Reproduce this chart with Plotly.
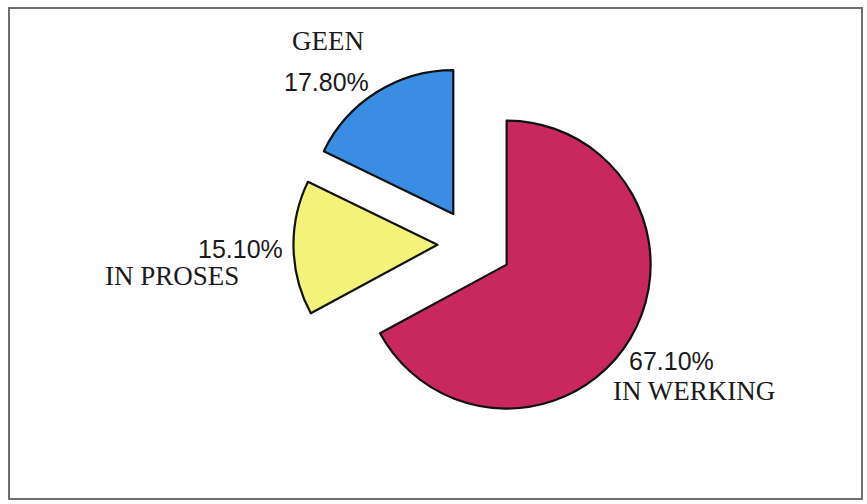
import plotly.graph_objects as go

labels = ["IN WERKING", "IN PROSES", "GEEN"]
values = [67.1, 15.1, 17.8]
colors = ["#C8285E", "#F3F37A", "#3B8DE4"]
pulls = [0.28, 0.24, 0.245]

W, H = 867, 504

def px(x):
    return x / W

def py(y):
    return 1 - y / H

fig = go.Figure()
fig.add_trace(go.Pie(
    labels=labels,
    values=values,
    sort=False,
    direction="clockwise",
    rotation=0,
    pull=pulls,
    marker=dict(colors=colors, line=dict(color="#111111", width=2.2)),
    textinfo="none",
    hoverinfo="label+percent",
    showlegend=False,
    domain=dict(x=[px(472 - 184.3), px(472 + 184.3)], y=[py(244 + 184.3), py(244 - 184.3)]),
))

serif = "Liberation Serif, Times New Roman, serif"
sans = "Liberation Sans, Arial, sans-serif"

# label positions (name line, percent line) per category, in pixel coordinates
name_pos = {"GEEN": (328, 41), "IN PROSES": (172, 276), "IN WERKING": (694, 391)}
pct_pos = {"GEEN": (326, 82), "IN PROSES": (240, 249), "IN WERKING": (671, 361)}

anns = []
for lab, val in zip(labels, values):
    nx, ny = name_pos[lab]
    qx, qy = pct_pos[lab]
    anns.append(dict(x=px(nx), y=py(ny), xref="paper", yref="paper", text=lab,
                     showarrow=False, xanchor="center", yanchor="middle",
                     font=dict(family=serif, size=27, color="#1a1a1a")))
    anns.append(dict(x=px(qx), y=py(qy), xref="paper", yref="paper", text=f"{val:.2f}%",
                     showarrow=False, xanchor="center", yanchor="middle",
                     font=dict(family=sans, size=25, color="#1a1a1a")))

fig.update_layout(
    width=W, height=H,
    margin=dict(l=0, r=0, t=0, b=0),
    paper_bgcolor="white",
    plot_bgcolor="white",
    annotations=anns,
    shapes=[dict(type="rect", xref="paper", yref="paper",
                 x0=px(9), y0=py(499), x1=px(862), y1=py(8),
                 line=dict(color="#6e6e6e", width=2), fillcolor="rgba(0,0,0,0)")],
)

fig.write_html("out.html", config={"displayModeBar": False},
               post_script="document.body.style.margin='0';document.body.style.overflow='hidden';")
